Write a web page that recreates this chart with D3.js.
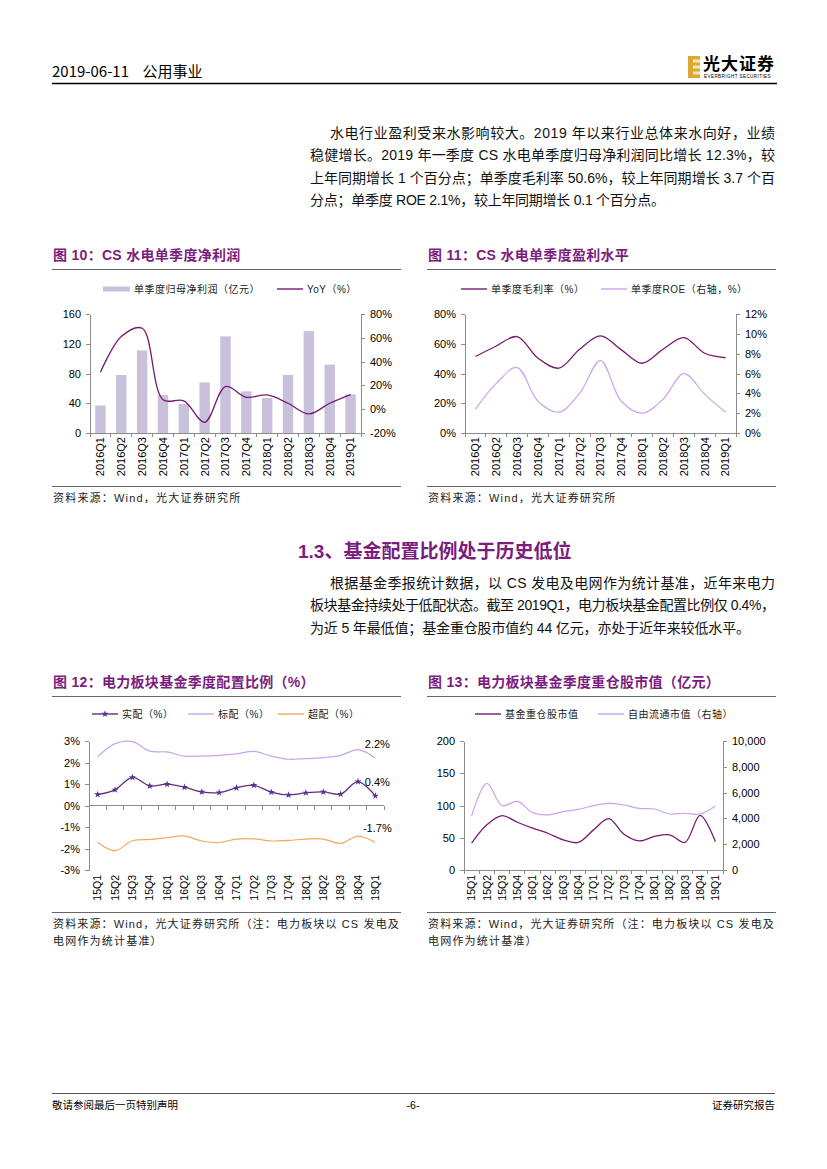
<!DOCTYPE html>
<html lang="zh">
<head>
<meta charset="utf-8">
<title>公用事业 - 水电盈利与基金配置</title>
<script src="https://d3js.org/d3.v7.min.js"></script>
<style>
  body { margin: 0; background: #fff; }
  svg text { font-family: "Liberation Sans", "Noto Sans CJK SC", sans-serif; fill: #000; }
  .axis path, .axis line { stroke: #8c8c8c; shape-rendering: crispEdges; }
  .axis text { font-size: 11px; }
  .legend text { font-size: 10px; letter-spacing: 0.5px; fill: #222; }
  .title { font-size: 14px; font-weight: bold; fill: #7b1d7e !important; letter-spacing: 0.3px; }
  .src { font-size: 11px; fill: #222; letter-spacing: 1.2px; }
  .body { font-size: 14px; fill: #111; }
</style>
</head>
<body>
<script>
// ---- data ----
const quartersA = ['2016Q1','2016Q2','2016Q3','2016Q4','2017Q1','2017Q2','2017Q3','2017Q4','2018Q1','2018Q2','2018Q3','2018Q4','2019Q1']
const netProfit = [37, 78, 111, 51, 39, 68, 130, 56, 47, 78, 137, 92, 52]          // 亿元
const netProfitYoY = [31, 61, 68, 8, 7, -11, 19, 10, 12, 5, -4, 5, 12.3]          // %
const grossMargin = [51.4, 58.5, 64.8, 50.3, 43.6, 56.3, 65.3, 55.9, 46.9, 56.3, 64.1, 53.6, 50.6]
const roe = [2.4, 5.0, 6.6, 3.2, 2.1, 4.0, 7.3, 3.2, 2.0, 3.4, 6.0, 3.9, 2.1]

const quartersB = ['15Q1','15Q2','15Q3','15Q4','16Q1','16Q2','16Q3','16Q4','17Q1','17Q2','17Q3','17Q4','18Q1','18Q2','18Q3','18Q4','19Q1']
const allocActual = [0.51, 0.73, 1.31, 0.91, 0.99, 0.85, 0.63, 0.60, 0.82, 0.94, 0.62, 0.49, 0.59, 0.63, 0.53, 1.11, 0.45]
const allocStandard = [2.26, 2.88, 2.97, 2.53, 2.49, 2.30, 2.30, 2.33, 2.40, 2.52, 2.30, 2.15, 2.18, 2.23, 2.33, 2.60, 2.21]
const allocOver = [-1.72, -2.10, -1.64, -1.58, -1.50, -1.42, -1.65, -1.72, -1.56, -1.55, -1.65, -1.62, -1.56, -1.56, -1.76, -1.42, -1.72]
const fundHolding = [41.6, 70, 84.3, 74, 64.8, 57, 46.8, 42.7, 62.2, 79.7, 55.5, 45.2, 52, 54.5, 42.7, 84.8, 44]   // 亿元
const freeFloat = [4190, 6710, 4990, 5320, 4450, 4270, 4520, 4700, 4990, 5170, 5040, 4780, 4730, 4340, 4400, 4340, 4960]

const profitTicks = [0, 40, 80, 120, 160]
const yoyTicks = [-20, 0, 20, 40, 60, 80]
const marginTicks = [0, 20, 40, 60, 80]
const roeTicks = [0, 2, 4, 6, 8, 10, 12]
const allocTicks = [-3, -2, -1, 0, 1, 2, 3]
const holdingTicks = [0, 50, 100, 150, 200]
const floatTicks = [0, 2000, 4000, 6000, 8000, 10000]

const cDark = '#781a72'
const cLight = '#c9a4ee'
const cBar = '#c9c1dc'
const cOrange = '#f4a65e'
const purple = '#7b1d7e'

const svg = d3.select('body').append('svg').attr('width', 827).attr('height', 1169)
const smooth = d3.curveCatmullRom.alpha(0.5)
const pct = d => d + '%'

// ---- page header ----
svg.append('text').attr('x', 52).attr('y', 77).style('font-family', '"Noto Sans CJK SC"')
  .style('font-size', '15px').attr('xml:space', 'preserve').text('2019-06-11    公用事业')
svg.append('line').attr('x1', 52).attr('x2', 777).attr('y1', 83.5).attr('y2', 83.5).attr('stroke', '#000').attr('stroke-width', 1.3)
const logo = svg.append('g')
logo.append('rect').attr('x', 688).attr('y', 56).attr('width', 12).attr('height', 22).attr('fill', '#d9a933')
;[59.5, 65.5, 71.5].forEach(yy => logo.append('rect').attr('x', 693).attr('y', yy).attr('width', 7).attr('height', 3).attr('fill', '#f6e7b8'))
logo.append('text').attr('x', 703).attr('y', 70).style('font-size', '17px').style('font-weight', 'bold').style('letter-spacing', '1px').text('光大证券')
logo.append('text').attr('x', 704).attr('y', 77.5).style('font-size', '4.6px').style('letter-spacing', '0.4px').text('EVERBRIGHT SECURITIES')

// ---- body text ----
function para(lines, y0) {
  lines.forEach((l, i) => {
    const t = svg.append('text').attr('class', 'body').attr('x', l.x).attr('y', y0 + i * 22.3).text(l.t)
    if (l.w) t.attr('textLength', l.w).attr('lengthAdjust', 'spacing')
  })
}
para([
  { x: 330, w: 445, t: '水电行业盈利受来水影响较大。2019 年以来行业总体来水向好，业绩' },
  { x: 310, w: 465, t: '稳健增长。2019 年一季度 CS 水电单季度归母净利润同比增长 12.3%，较' },
  { x: 310, w: 465, t: '上年同期增长 1 个百分点；单季度毛利率 50.6%，较上年同期增长 3.7 个百' },
  { x: 310, w: 355, t: '分点；单季度 ROE 2.1%，较上年同期增长 0.1 个百分点。' }
], 138)

svg.append('text').attr('x', 298).attr('y', 558).style('font-size', '19px').style('font-weight', 'bold')
  .style('fill', purple).text('1.3、基金配置比例处于历史低位')
para([
  { x: 330, w: 445, t: '根据基金季报统计数据，以 CS 发电及电网作为统计基准，近年来电力' },
  { x: 310, w: 465, t: '板块基金持续处于低配状态。截至 2019Q1，电力板块基金配置比例仅 0.4%，' },
  { x: 310, w: 440, t: '为近 5 年最低值；基金重仓股市值约 44 亿元，亦处于近年来较低水平。' }
], 588)

// ---- footer ----
svg.append('line').attr('x1', 52).attr('x2', 775).attr('y1', 1093.5).attr('y2', 1093.5).attr('stroke', '#555').attr('stroke-width', 1)
svg.append('text').attr('x', 52).attr('y', 1109).style('font-size', '10.5px').text('敬请参阅最后一页特别声明')
svg.append('text').attr('x', 413).attr('y', 1109).attr('text-anchor', 'middle').style('font-size', '10.5px').text('-6-')
svg.append('text').attr('x', 775).attr('y', 1109).attr('text-anchor', 'end').style('font-size', '10.5px').text('证券研究报告')

// ---- shared chart helpers ----
function frame(x0, x1, yTitle, yTop, yBot, title, srcLines) {
  svg.append('text').attr('class', 'title').attr('x', x0 + 1).attr('y', yTitle + 5).style('fill', purple).text(title)
  svg.append('line').attr('x1', x0).attr('x2', x1).attr('y1', yTop).attr('y2', yTop).attr('stroke', '#666')
  svg.append('line').attr('x1', x0).attr('x2', x1).attr('y1', yBot).attr('y2', yBot).attr('stroke', '#666')
  srcLines.forEach((s, i) => {
    const t = svg.append('text').attr('class', 'src').attr('x', x0 + 1).attr('y', yBot + 15 + i * 17).text(s)
    if (i === 0 && srcLines.length > 1) t.attr('textLength', x1 - x0 - 2).attr('lengthAdjust', 'spacing')
  })
}

function catAxis(x, yLine, yLabel, fontSize) {
  const g = svg.append('g').attr('class', 'axis')
  const r = x.range()
  g.append('line').attr('x1', r[0]).attr('x2', r[1]).attr('y1', yLine).attr('y2', yLine)
  const bounds = x.domain().map(d => x(d)).concat([r[1]])
  g.selectAll('line.tk').data(bounds).join('line').attr('class', 'tk')
    .attr('x1', d => d).attr('x2', d => d).attr('y1', yLine).attr('y2', yLine + 4)
  const lab = svg.append('g').attr('class', 'axis').attr('transform', `translate(0,${yLabel})`)
    .call(d3.axisBottom(x).tickSize(0).tickPadding(0))
  lab.select('.domain').remove()
  lab.selectAll('text').attr('transform', 'rotate(-90)').attr('text-anchor', 'end')
    .attr('x', 0).attr('y', 0).attr('dy', '0.35em').style('font-size', fontSize + 'px')
}

function yAxis(scale, ticks, xPos, side, fmt) {
  const ax = (side === 'left' ? d3.axisLeft(scale) : d3.axisRight(scale))
    .tickValues(ticks).tickSize(4).tickSizeOuter(0).tickPadding(5).tickFormat(fmt)
  svg.append('g').attr('class', 'axis').attr('transform', `translate(${xPos},0)`).call(ax)
}

function lineLegend(x, y, color, label, marker) {
  const g = svg.append('g').attr('class', 'legend')
  g.append('line').attr('x1', x).attr('x2', x + 26).attr('y1', y).attr('y2', y).attr('stroke', color).attr('stroke-width', 1.4)
  if (marker) g.append('path').attr('d', d3.symbol(d3.symbolStar, 16)()).attr('transform', `translate(${x + 13},${y})`).attr('fill', marker)
  g.append('text').attr('x', x + 30).attr('y', y).attr('dy', '0.35em').text(label)
}

function drawLine(x, y, vals, color, width) {
  const line = d3.line().x((d, i) => x(x.domain()[i]) + x.bandwidth() / 2).y(d => y(d)).curve(smooth)
  svg.append('path').datum(vals).attr('d', line).attr('fill', 'none').attr('stroke', color).attr('stroke-width', width)
}

// ---- 图10 ----
frame(52, 401, 255, 269.5, 486.5, '图 10：CS 水电单季度净利润', ['资料来源：Wind，光大证券研究所'])
{
  const x = d3.scaleBand().domain(quartersA).range([90, 361])
  const y = d3.scaleLinear().domain([0, 160]).range([433, 314])
  const yR = d3.scaleLinear().domain([-20, 80]).range([433, 314])
  const bw = x.bandwidth() * 0.5
  svg.append('g').selectAll('rect').data(netProfit).join('rect')
    .attr('x', (d, i) => x(quartersA[i]) + (x.bandwidth() - bw) / 2).attr('width', bw)
    .attr('y', d => y(d)).attr('height', d => y(0) - y(d)).attr('fill', cBar)
  drawLine(x, yR, netProfitYoY, cDark, 1.3)
  yAxis(y, profitTicks, 90, 'left', d3.format('d'))
  yAxis(yR, yoyTicks, 361, 'right', pct)
  catAxis(x, 433, 437, 11)
  const lg = svg.append('g').attr('class', 'legend')
  lg.append('rect').attr('x', 103).attr('y', 286.5).attr('width', 27).attr('height', 5).attr('fill', cBar)
  lg.append('text').attr('x', 134).attr('y', 289).attr('dy', '0.35em').text('单季度归母净利润（亿元）')
  lineLegend(277, 289, cDark, 'YoY（%）')
}

// ---- 图11 ----
frame(427, 776, 255, 269.5, 486.5, '图 11：CS 水电单季度盈利水平', ['资料来源：Wind，光大证券研究所'])
{
  const x = d3.scaleBand().domain(quartersA).range([465, 736])
  const y = d3.scaleLinear().domain([0, 80]).range([433, 314])
  const yR = d3.scaleLinear().domain([0, 12]).range([433, 314])
  drawLine(x, y, grossMargin, cDark, 1.3)
  drawLine(x, yR, roe, cLight, 1.2)
  yAxis(y, marginTicks, 465, 'left', pct)
  yAxis(yR, roeTicks, 736, 'right', pct)
  catAxis(x, 433, 437, 11)
  lineLegend(461, 289, cDark, '单季度毛利率（%）')
  lineLegend(601, 289, cLight, '单季度ROE（右轴，%）')
}

// ---- 图12 ----
const noteLines = ['资料来源：Wind，光大证券研究所（注：电力板块以 CS 发电及', '电网作为统计基准）']
frame(52, 401, 682, 696.5, 912.5, '图 12：电力板块基金季度配置比例（%）', noteLines)
{
  const x = d3.scaleBand().domain(quartersB).range([89, 384])
  const y = d3.scaleLinear().domain([-3, 3]).range([870, 741])
  yAxis(y, allocTicks, 89, 'left', pct)
  catAxis(x, y(0), 875, 10.5)
  drawLine(x, y, allocStandard, cLight, 1.2)
  drawLine(x, y, allocOver, cOrange, 1.2)
  drawLine(x, y, allocActual, '#6a2a80', 1.3)
  svg.append('g').selectAll('path').data(allocActual).join('path')
    .attr('d', d3.symbol(d3.symbolStar, 16)())
    .attr('transform', (d, i) => `translate(${x(quartersB[i]) + x.bandwidth() / 2},${y(d)})`)
    .attr('fill', '#4b3a95')
  const last = quartersB.length - 1
  const lx = x(quartersB[last]) + x.bandwidth() / 2 + 2
  ;[[allocStandard[last], '2.2%'], [allocActual[last], '0.4%'], [allocOver[last], '-1.7%']].forEach(([v, t]) => {
    svg.append('text').attr('x', lx).attr('y', y(v) - 14).attr('dy', '0.35em').attr('text-anchor', 'middle')
      .style('font-size', '11px').text(t)
  })
  lineLegend(92, 714, '#6a2a80', '实配（%）', '#4b3a95')
  lineLegend(188, 714, cLight, '标配（%）')
  lineLegend(278, 714, cOrange, '超配（%）')
}

// ---- 图13 ----
frame(427, 776, 682, 696.5, 912.5, '图 13：电力板块基金季度重仓股市值（亿元）', noteLines)
{
  const x = d3.scaleBand().domain(quartersB).range([464, 723])
  const y = d3.scaleLinear().domain([0, 200]).range([870, 741])
  const yR = d3.scaleLinear().domain([0, 10000]).range([870, 741])
  drawLine(x, yR, freeFloat, cLight, 1.2)
  drawLine(x, y, fundHolding, cDark, 1.3)
  yAxis(y, holdingTicks, 464, 'left', d3.format('d'))
  yAxis(yR, floatTicks, 723, 'right', d3.format(','))
  catAxis(x, 870, 875, 10.5)
  lineLegend(475, 714, cDark, '基金重仓股市值')
  lineLegend(598, 714, cLight, '自由流通市值（右轴）')
}
</script>
</body>
</html>
